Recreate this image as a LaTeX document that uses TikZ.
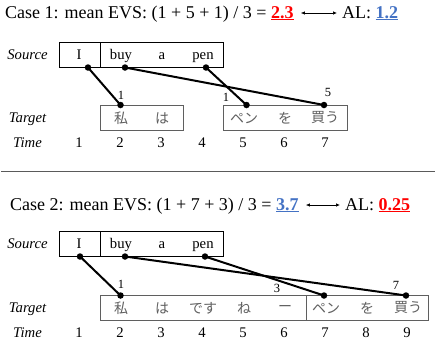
\documentclass[tikz,border=0pt]{standalone}
\usepackage{fontspec}
\setmainfont{Liberation Serif}
\newfontfamily\jafont{Noto Sans CJK JP}
\usetikzlibrary{arrows.meta,positioning,calc}
\definecolor{evsred}{RGB}{255,0,0}
\definecolor{evsblue}{RGB}{68,114,196}
\definecolor{tgtgray}{RGB}{95,95,95}
\definecolor{rulegray}{RGB}{90,90,90}
\tikzset{
  casetitle/.style={anchor=base west, inner sep=0pt, font=\fontsize{18}{20}\selectfont},
  rowlabel/.style={anchor=base, inner sep=0pt, font=\fontsize{14.7}{16}\selectfont\itshape},
  srcbox/.style={draw=black, line width=0.9pt, minimum height=25pt, inner sep=0pt},
  tgtbox/.style={draw=tgtgray, line width=0.9pt, minimum height=25pt, inner sep=0pt},
  srcword/.style={anchor=base, inner sep=0pt, font=\fontsize{14.7}{16}\selectfont},
  tgtword/.style={inner sep=0pt, text=tgtgray, font=\fontsize{14}{16}\selectfont\jafont},
  timelbl/.style={anchor=base, inner sep=0pt, font=\fontsize{14.7}{16}\selectfont},
  lagnum/.style={inner sep=0pt, font=\fontsize{12.5}{14}\selectfont},
  wdot/.style={circle, fill=black, minimum size=6.5pt, inner sep=0pt},
  link/.style={line width=2pt},
  twoway/.style={{Latex[length=4pt,width=3.5pt]}-{Latex[length=4pt,width=3.5pt]}, line width=0.7pt}
}
\newcommand{\hival}[2]{\textcolor{#1}{\textbf{\underline{#2}}}}

\begin{document}
\begin{tikzpicture}[x=1pt, y=-1pt]
\useasboundingbox (0,0) rectangle (436,343);

% ---- case 1
\node[casetitle] (evs1) at (5,18) {Case 1: mean EVS: (1 + 5 + 1) / 3 = \hival{evsred}{2.3}};
\node[casetitle] (al1) at (342,18) {AL: \hival{evsblue}{1.2}};
\draw[twoway] ([xshift=7pt,yshift=5pt]evs1.base east) -- ([xshift=-5pt,yshift=5pt]al1.base west);

\node[rowlabel] (src1) at (27.5,59) {Source};
\node[srcbox, minimum width=41pt] (sbA1) at (79.5,54.5) {};
\node[srcbox, minimum width=123pt] (sbB1) at (161.5,54.5) {};
\node[srcword] (sI1) at (79,59) {I};
\node[srcword] (sbuy1) at (121,59) {buy};
\node[srcword] (sa1) at (162,59) {a};
\node[srcword] (spen1) at (203,59) {pen};

\node[rowlabel] (tgt1) at (27.5,122) {Target};
\node[tgtbox, minimum width=83pt] (tbA1) at (141.5,117.5) {};
\node[tgtbox, minimum width=124pt] (tbB1) at (285,117.5) {};
\node[tgtword] (tw1) at (121,118) {私};
\node[tgtword] (tha1) at (162,118) {は};
\node[tgtword] (tpen1) at (244,118) {ペン};
\node[tgtword] (two1) at (285,118) {を};
\node[tgtword] (tkau1) at (325,118) {買う};

\node[rowlabel] (time1) at (27.5,147) {Time};
\node[timelbl] (c1a) at (79,147) {1};
\node[timelbl] (c1b) at (120,147) {2};
\node[timelbl] (c1c) at (161,147) {3};
\node[timelbl] (c1d) at (202,147) {4};
\node[timelbl] (c1e) at (243,147) {5};
\node[timelbl] (c1f) at (284,147) {6};
\node[timelbl] (c1g) at (325,147) {7};

\node[wdot] (dI1) at (88,67.5) {};
\node[wdot] (dbuy1) at (125,67.5) {};
\node[wdot] (dpen1) at (206,67.5) {};
\node[wdot] (dw1) at (120.5,105) {};
\node[wdot] (dpn1) at (246.5,105) {};
\node[wdot] (dkau1) at (324,105) {};
\draw[link] (dI1.center) -- (dw1.center);
\draw[link] (dbuy1.center) -- (dkau1.center);
\draw[link] (dpen1.center) -- (dpn1.center);
\node[lagnum] (lag1a) at (121,95) {1};
\node[lagnum] (lag1b) at (226,97) {1};
\node[lagnum] (lag1c) at (328,92) {5};

% ---- separator
\draw[rulegray, line width=1.5pt] (1,171.5) -- (435,171.5);

% ---- case 2
\node[casetitle] (evs2) at (10,210) {Case 2: mean EVS: (1 + 7 + 3) / 3 = \hival{evsblue}{3.7}};
\node[casetitle] (al2) at (345,210) {AL: \hival{evsred}{0.25}};
\draw[twoway] ([xshift=7pt,yshift=5pt]evs2.base east) -- ([xshift=-5pt,yshift=5pt]al2.base west);

\node[rowlabel] (src2) at (27.5,248) {Source};
\node[srcbox, minimum width=41pt] (sbA2) at (79.5,243.5) {};
\node[srcbox, minimum width=123pt] (sbB2) at (161.5,243.5) {};
\node[srcword] (sI2) at (79,248) {I};
\node[srcword] (sbuy2) at (121,248) {buy};
\node[srcword] (sa2) at (162,248) {a};
\node[srcword] (spen2) at (203,248) {pen};

\node[rowlabel] (tgt2) at (27.5,312) {Target};
\node[tgtbox, minimum width=206pt] (tbA2) at (203,308) {};
\node[tgtbox, minimum width=122pt] (tbB2) at (367,308) {};
\node[tgtword] (tw2) at (121,308) {私};
\node[tgtword] (tha2) at (162,308) {は};
\node[tgtword] (tdesu2) at (203,308) {です};
\node[tgtword] (tne2) at (244,308) {ね};
\node[tgtword] (tbar2) at (285,308) {ー};
\node[tgtword] (tpen2) at (326,308) {ペン};
\node[tgtword] (two2) at (367,308) {を};
\node[tgtword] (tkau2) at (408,308) {買う};

\node[rowlabel] (time2) at (27.5,337) {Time};
\node[timelbl] (c2a) at (79,337) {1};
\node[timelbl] (c2b) at (120,337) {2};
\node[timelbl] (c2c) at (161,337) {3};
\node[timelbl] (c2d) at (202,337) {4};
\node[timelbl] (c2e) at (243,337) {5};
\node[timelbl] (c2f) at (284,337) {6};
\node[timelbl] (c2g) at (325,337) {7};
\node[timelbl] (c2h) at (366,337) {8};
\node[timelbl] (c2i) at (407,337) {9};

\node[wdot] (dI2) at (80,256.5) {};
\node[wdot] (dbuy2) at (125,256.5) {};
\node[wdot] (dpen2) at (205,256.5) {};
\node[wdot] (dw2) at (120.5,295.5) {};
\node[wdot] (dpn2) at (324,295.5) {};
\node[wdot] (dkau2) at (406,295.5) {};
\draw[link] (dI2.center) -- (dw2.center);
\draw[link] (dbuy2.center) -- (dkau2.center);
\draw[link] (dpen2.center) -- (dpn2.center);
\node[lagnum] (lag2a) at (121,284) {1};
\node[lagnum] (lag2b) at (277,288) {3};
\node[lagnum] (lag2c) at (396,285) {7};
\end{tikzpicture}
\end{document}
